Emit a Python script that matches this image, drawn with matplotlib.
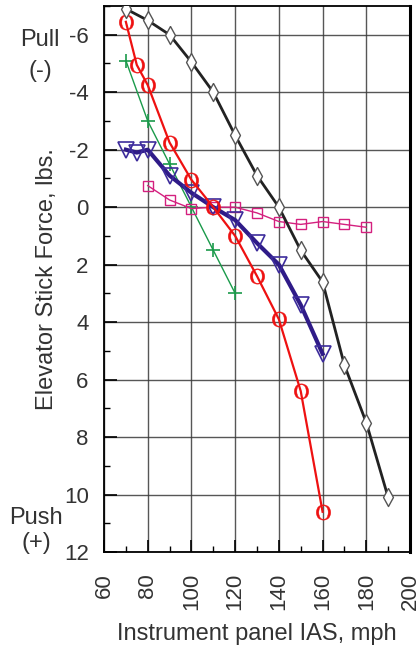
import matplotlib
matplotlib.use("Agg")
import matplotlib.pyplot as plt
from matplotlib.ticker import MultipleLocator

plt.rcParams['font.family'] = ['Liberation Sans', 'DejaVu Sans']
plt.rcParams['mathtext.fontset'] = 'stix'

# IAS (mph) and stick force (lbs)
black_x = [70, 80, 90, 100, 110, 120, 130, 140, 150, 160, 170, 180, 190]
black_y = [-6.9, -6.5, -6.0, -5.05, -4.0, -2.5, -1.1, 0.0, 1.5, 2.6, 5.5, 7.5, 10.1]

red_x = [70, 75, 80, 90, 100, 110, 120, 130, 140, 150, 160]
red_y = [-6.45, -4.95, -4.25, -2.25, -0.95, 0.0, 1.0, 2.4, 3.9, 6.4, 10.6]

green_x = [70, 80, 90, 100, 110, 120]
green_y = [-5.1, -3.0, -1.5, 0.0, 1.5, 3.0]

pink_x = [80, 90, 100, 110, 120, 130, 140, 150, 160, 170, 180]
pink_y = [-0.75, -0.25, 0.05, 0.0, 0.0, 0.2, 0.5, 0.6, 0.5, 0.6, 0.7]

blue_x = [70, 75, 80, 90, 100, 110, 120, 130, 140, 150, 160]
blue_y = [-2.0, -1.9, -2.0, -1.1, -0.5, 0.0, 0.45, 1.25, 2.0, 3.4, 5.1]

# tall thin diamond
thin_diamond = [(0, 1), (0.55, 0), (0, -1), (-0.55, 0), (0, 1)]

fig = plt.figure(figsize=(4.16, 6.46), dpi=100)
ax = fig.add_axes([0.25, 0.1455, 0.7356, 0.8452])

ax.plot(green_x, green_y, color='#1a9a4a', lw=1, marker='+', ms=10, mew=1.2, zorder=3)
ax.plot(pink_x, pink_y, color='#d4207f', lw=1, marker='s', ms=7, mfc='none', mec='#d4207f', mew=1, zorder=3)
ax.plot(blue_x, blue_y, color='#2f1b88', lw=3, marker='v', ms=11, mfc='none', mec='#3d2c9c', mew=1.2, zorder=4)
ax.plot(red_x, red_y, color='#ee1111', lw=1.6, marker=r'$\mathrm{O}$', ms=11, mfc='#ee1111', mec='#ee1111', mew=0.3, zorder=5)
ax.plot(black_x, black_y, color='#222222', lw=2, marker=thin_diamond, ms=13, mfc='white', mec='#555555', mew=1, zorder=6)

ax.set_xlim(60, 200)
ax.set_ylim(12, -7)
ax.set_xticks(range(60, 201, 20))
ax.xaxis.set_minor_locator(MultipleLocator(10))
ax.set_yticks(range(-6, 13, 2))
ax.yaxis.set_minor_locator(MultipleLocator(1))
ax.grid(True, which='major', color='#3a3a3a', lw=1, alpha=0.85)

ax.tick_params(axis='both', which='major', direction='in', length=9, width=1.2, labelsize=16)
ax.tick_params(axis='both', which='minor', direction='in', length=4, width=1)
ax.tick_params(axis='y', pad=11)
ax.tick_params(axis='x', pad=15, labelrotation=90)
ax.set_yticklabels([str(v) for v in range(-6, 13, 2)], color='#333333')
for lab in ax.get_xticklabels():
    lab.set_color('#333333')

for side in ['left', 'bottom', 'top']:
    ax.spines[side].set_linewidth(1.3)
ax.spines['right'].set_linewidth(2.2)

ax.set_xlabel('Instrument panel IAS, mph', fontsize=17, color='#333333', labelpad=9)
ax.set_ylabel('Elevator Stick Force, lbs.', fontsize=17, color='#333333', labelpad=4)

fig.text(40 / 416, 1 - 40 / 646, 'Pull', fontsize=17, color='#333333', ha='center', va='center')
fig.text(40 / 416, 1 - 71 / 646, '(-)', fontsize=17, color='#333333', ha='center', va='center')
fig.text(36 / 416, 1 - 518 / 646, 'Push', fontsize=17, color='#333333', ha='center', va='center')
fig.text(36 / 416, 1 - 543 / 646, '(+)', fontsize=17, color='#333333', ha='center', va='center')

fig.savefig('out.png', dpi=100)
